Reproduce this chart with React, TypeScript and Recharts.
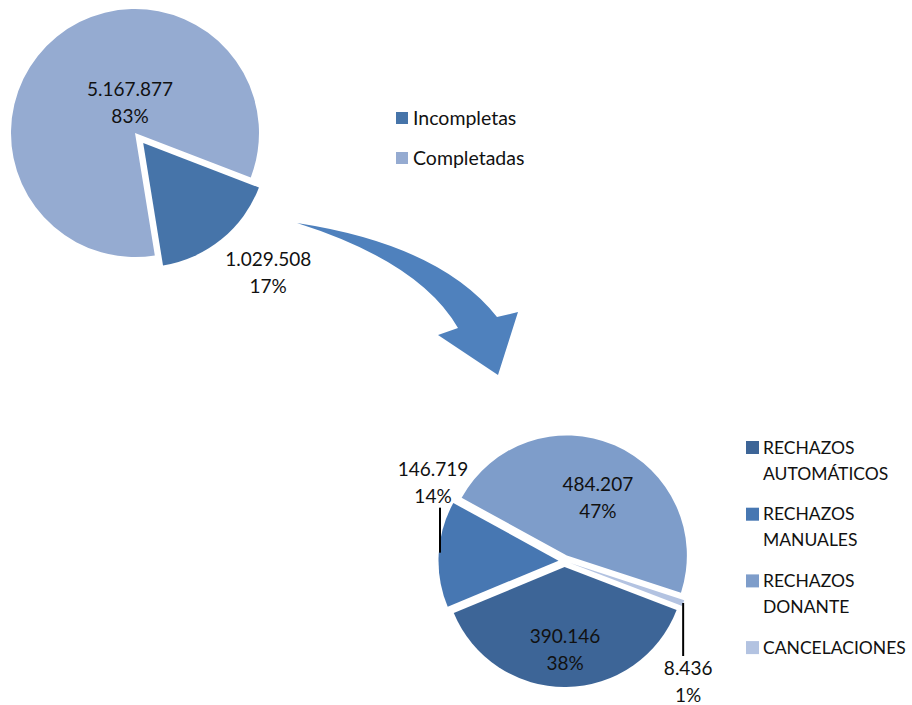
import React from 'react'
import { PieChart, Pie, Cell } from 'recharts'

// top pie
const topNames = ['Incompletas', 'Completadas']
const topValues = [1029508, 5167877]
const topColors = ['#4674A9', '#95ABD1']

// bottom pie (breakdown of Incompletas)
const bottomNames = ['RECHAZOS AUTOMÁTICOS', 'RECHAZOS MANUALES', 'RECHAZOS DONANTE', 'CANCELACIONES']
const bottomValues = [390146, 146719, 484207, 8436]
const bottomColors = ['#3D6597', '#4777B2', '#7E9DCA', '#B3C3E1']

const FONT = 'Lato, "Open Sans", sans-serif'
const START = -21
const END = -381

const fmt = (v: number) => String(v).replace(/\B(?=(\d{3})+(?!\d))/g, '.')

// layout for one pie: centre, radius, explode distance per slice, label offsets
type PieLayout = {
  cx: number
  cy: number
  r: number
  explode: number[]
  labels: [number, number][]
  leaders: ([number, number, number, number] | null)[]
}

const topLayout: PieLayout = {
  cx: 135,
  cy: 133,
  r: 124,
  explode: [13, 0],
  labels: [[125, 129], [-5, -31]],
  leaders: [null, null],
}

const bottomLayout: PieLayout = {
  cx: 564.5,
  cy: 561,
  r: 120,
  explode: [6, 6, 6, 6],
  labels: [[0.5, 83], [-125.5, -78], [31, -57.5], [118, 118]],
  leaders: [null, [7, 25, 7, 70], null, [-5, -78, -5, -25]],
}

function sliceCentres(values: number[], lay: PieLayout) {
  const total = values.reduce((a, b) => a + b, 0)
  let cum = 0
  return values.map((v, i) => {
    const mid = START + (END - START) * (cum + v / 2) / total
    cum += v
    const rad = (mid * Math.PI) / 180
    return {
      x: lay.cx + lay.explode[i] * Math.cos(rad),
      y: lay.cy - lay.explode[i] * Math.sin(rad),
    }
  })
}

function explodedPies(key: string, names: string[], values: number[], colors: string[], lay: PieLayout) {
  const total = values.reduce((a, b) => a + b, 0)
  const data = names.map((n, i) => ({ name: n, value: values[i] }))
  const centres = sliceCentres(values, lay)
  return centres.map((c, i) => (
    <Pie
      key={key + i}
      data={data}
      dataKey="value"
      cx={c.x}
      cy={c.y}
      outerRadius={lay.r}
      startAngle={START}
      endAngle={END}
      stroke="none"
      isAnimationActive={false}
      labelLine={false}
      label={(p: any) => {
        if (p.index !== i) return null
        const lx = c.x + lay.labels[i][0]
        const ly = c.y + lay.labels[i][1]
        const pct = Math.round((values[i] / total) * 100) + '%'
        const ld = lay.leaders[i]
        return (
          <g>
            {ld && (
              <line x1={lx + ld[0]} y1={ly + ld[1]} x2={lx + ld[2]} y2={ly + ld[3]} stroke="#000" strokeWidth={2} />
            )}
            <text x={lx} y={ly - 13.5 + 7} textAnchor="middle" fontFamily={FONT} fontSize={19} fill="#111">
              {fmt(values[i])}
            </text>
            <text x={lx} y={ly + 13.5 + 7} textAnchor="middle" fontFamily={FONT} fontSize={19} fill="#111">
              {pct}
            </text>
          </g>
        )
      }}
    >
      {data.map((d, j) => (
        <Cell key={d.name} fill={j === i ? colors[j] : 'transparent'} />
      ))}
    </Pie>
  ))
}

export default function App() {
  return (
    <div style={{ position: 'absolute', left: 0, top: 0, width: 912, height: 705, background: '#fff' }}>
      <PieChart width={912} height={705} margin={{ top: 0, right: 0, bottom: 0, left: 0 }}>
        {explodedPies('top', topNames, topValues, topColors, topLayout)}
        {explodedPies('bot', bottomNames, bottomValues, bottomColors, bottomLayout)}
      </PieChart>
      <svg
        width={912}
        height={705}
        style={{ position: 'absolute', left: 0, top: 0, pointerEvents: 'none' }}
      >
        {/* curved arrow */}
        <path
          d="M297,223 Q440,245 497,317 L518,312 L498,375 L438,335 L458,328 Q420,262 297,223 Z"
          fill="#4F81BD"
        />
        {/* top legend */}
        {topNames.map((n, i) => (
          <g key={n}>
            <rect x={396} y={112 + i * 40} width={12} height={12} fill={topColors[i]} />
            <text x={413} y={118 + i * 40 + 7} fontFamily={FONT} fontSize={19.5} fill="#111">
              {n}
            </text>
          </g>
        ))}
        {/* bottom legend */}
        {bottomNames.map((n, i) => {
          const y0 = 447 + i * 66.7
          return (
            <g key={n}>
              <rect x={746} y={y0 - 6} width={13} height={13} fill={bottomColors[i]} />
              {n.split(' ').map((w, k) => (
                <text key={w} x={763} y={y0 + k * 26 + 6.5} fontFamily={FONT} fontSize={17.5} fill="#111">
                  {w}
                </text>
              ))}
            </g>
          )
        })}
      </svg>
    </div>
  )
}
